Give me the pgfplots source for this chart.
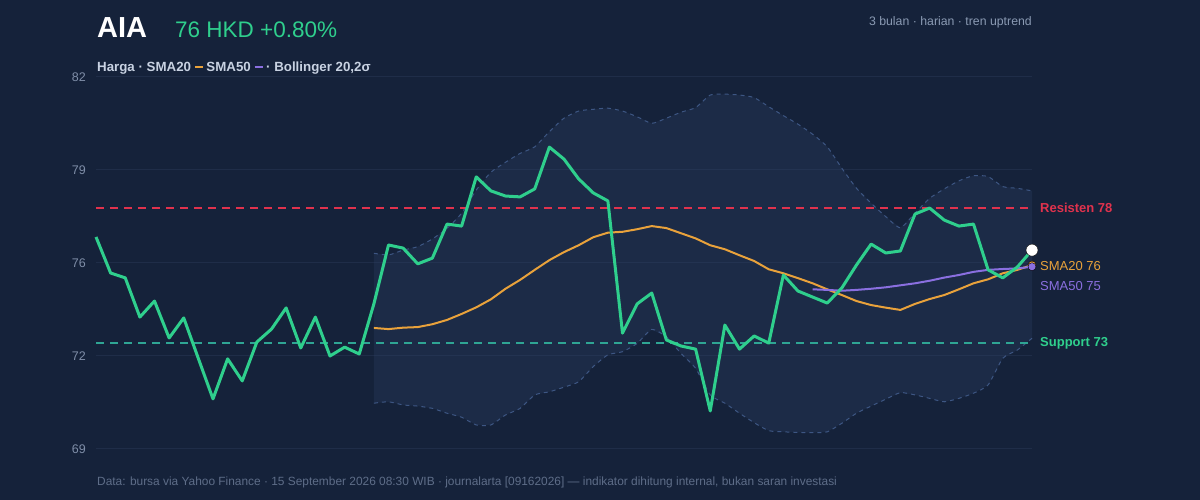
\documentclass[border=0pt]{standalone}
\usepackage{fontspec}
\setmainfont{Liberation Sans}
\usepackage{pgfplots}
\pgfplotsset{compat=1.18}
\usepackage{pgfplotstable}

\definecolor{bg}{HTML}{15223A}
\definecolor{bandfill}{HTML}{31466F}
\definecolor{bandline}{HTML}{3D5683}
\definecolor{gridc}{HTML}{1F2D48}
\definecolor{pricec}{HTML}{2FCF8D}
\definecolor{smaor}{HTML}{E9A23B}
\definecolor{smapu}{HTML}{8A6FE0}
\definecolor{resc}{HTML}{E0324D}
\definecolor{supc}{HTML}{2FA594}
\definecolor{tickc}{HTML}{7F8EA8}
\definecolor{subc}{HTML}{8A9AB3}
\definecolor{footc}{HTML}{5E6D88}
\definecolor{legc}{HTML}{C8D2E2}

\pgfplotstableread{
i p
0 76.41
1 75.15
2 74.98
3 73.61
4 74.17
5 72.88
6 73.58
7 72.16
8 70.75
9 72.15
10 71.38
11 72.74
12 73.19
13 73.93
14 72.53
15 73.61
16 72.25
17 72.56
18 72.32
19 74.07
20 76.13
21 76.02
22 75.47
23 75.67
24 76.86
25 76.79
26 78.51
27 78.02
28 77.84
29 77.81
30 78.09
31 79.55
32 79.13
33 78.44
34 77.95
35 77.67
36 73.05
37 74.07
38 74.45
39 72.81
40 72.60
41 72.49
42 70.33
43 73.33
44 72.49
45 72.95
46 72.70
47 75.08
48 74.52
49 74.31
50 74.10
51 74.63
52 75.43
53 76.16
54 75.85
55 75.92
56 77.21
57 77.42
58 77.00
59 76.79
60 76.86
61 75.26
62 74.98
63 75.36
64 75.95
}\pricetab

\pgfplotstableread{
i up lo sma
19 75.84 70.60 73.23
20 75.78 70.65 73.19
21 75.95 70.54 73.24
22 76.07 70.50 73.26
23 76.34 70.42 73.36
24 76.71 70.25 73.51
25 77.24 70.11 73.72
26 78.05 69.84 73.95
27 78.67 69.84 74.23
28 79.02 70.19 74.60
29 79.33 70.42 74.91
30 79.56 70.89 75.26
31 80.09 71.00 75.60
32 80.56 71.16 75.88
33 80.81 71.35 76.12
34 80.87 71.88 76.40
35 80.91 72.29 76.56
36 80.81 72.40 76.59
37 80.61 72.69 76.68
38 80.38 73.18 76.79
39 80.56 72.92 76.72
40 80.77 72.34 76.54
41 80.93 71.82 76.36
42 81.37 70.89 76.12
43 81.40 70.60 75.98
44 81.37 70.25 75.77
45 81.28 69.92 75.57
46 80.96 69.64 75.28
47 80.65 69.60 75.14
48 80.35 69.58 74.97
49 80.00 69.57 74.79
50 79.56 69.60 74.58
51 78.81 69.90 74.38
52 78.11 70.25 74.17
53 77.59 70.50 74.03
54 77.12 70.74 73.94
55 76.73 70.97 73.86
56 77.24 70.89 74.07
57 77.76 70.77 74.24
58 78.09 70.65 74.38
59 78.37 70.77 74.58
60 78.55 70.95 74.79
61 78.52 71.24 74.93
62 78.17 72.17 75.14
63 78.11 72.46 75.26
64 78.02 72.87 75.43
}\bandtab

% band polygon: upper forward, lower backward
\pgfplotstableread{
i v
19 75.84
20 75.78
21 75.95
22 76.07
23 76.34
24 76.71
25 77.24
26 78.05
27 78.67
28 79.02
29 79.33
30 79.56
31 80.09
32 80.56
33 80.81
34 80.87
35 80.91
36 80.81
37 80.61
38 80.38
39 80.56
40 80.77
41 80.93
42 81.37
43 81.40
44 81.37
45 81.28
46 80.96
47 80.65
48 80.35
49 80.00
50 79.56
51 78.81
52 78.11
53 77.59
54 77.12
55 76.73
56 77.24
57 77.76
58 78.09
59 78.37
60 78.55
61 78.52
62 78.17
63 78.11
64 78.02
64 72.87
63 72.46
62 72.17
61 71.24
60 70.95
59 70.77
58 70.65
57 70.77
56 70.89
55 70.97
54 70.74
53 70.50
52 70.25
51 69.90
50 69.60
49 69.57
48 69.58
47 69.60
46 69.64
45 69.92
44 70.25
43 70.60
42 70.89
41 71.82
40 72.34
39 72.92
38 73.18
37 72.69
36 72.40
35 72.29
34 71.88
33 71.35
32 71.16
31 71.00
30 70.89
29 70.42
28 70.19
27 69.84
26 69.84
25 70.11
24 70.25
23 70.42
22 70.50
21 70.54
20 70.65
19 70.60
}\polytab

\pgfplotstableread{
i s
49 74.58
50 74.56
51 74.53
52 74.56
53 74.60
54 74.65
55 74.72
56 74.79
57 74.88
58 74.99
59 75.08
60 75.19
61 75.26
62 75.29
63 75.31
64 75.37
}\smaftab

\begin{document}
\begin{tikzpicture}
\fill[bg] (0pt,0pt) rectangle (1200pt,500pt);
\begin{axis}[
  at={(96pt,51pt)}, anchor=south west,
  scale only axis, width=936pt, height=372pt,
  xmin=0, xmax=64, ymin=69, ymax=82,
  enlargelimits=false, clip=false,
  axis line style={draw=none},
  xtick=\empty,
  ytick={69,72.25,75.5,78.75,82},
  yticklabels={69,72,76,79,82},
  major tick length=0pt,
  ymajorgrids, grid style={gridc, line width=1pt},
  /pgf/number format/assume math mode=true,
  yticklabel style={font=\fontsize{12.5}{15}\selectfont, text=tickc, anchor=east, inner sep=0pt, xshift=-10pt},
]
% Bollinger band
\addplot[fill=bandfill, fill opacity=0.25, draw=none] table[x=i,y=v] {\polytab} -- cycle;
\addplot[draw=bandline, line width=1pt, dash pattern=on 4pt off 4pt, smooth, tension=0.35] table[x=i,y=up] {\bandtab};
\addplot[draw=bandline, line width=1pt, dash pattern=on 4pt off 4pt, smooth, tension=0.35] table[x=i,y=lo] {\bandtab};
% resistance / support
\addplot[resc, line width=1.4pt, dash pattern=on 8pt off 6pt] coordinates {(0,77.42) (64,77.42)};
\addplot[supc, line width=1.4pt, dash pattern=on 8pt off 6pt] coordinates {(0,72.70) (64,72.70)};
% SMAs
\addplot[smaor, line width=2pt] table[x=i,y=sma] {\bandtab};
\addplot[smapu, line width=2pt] table[x=i,y=s] {\smaftab};
% price
\addplot[pricec, line width=3pt, line join=round] table[x=i,y=p] {\pricetab};
% end markers
\addplot[only marks, mark=*, mark size=4pt, mark options={fill=smaor, draw=none}] coordinates {(64,75.43)};
\addplot[only marks, mark=*, mark size=4pt, mark options={fill=smapu, draw=none}] coordinates {(64,75.37)};
\addplot[only marks, mark=*, mark size=6pt, mark options={fill=white, draw=none}] coordinates {(64,75.95)};
\end{axis}
% titles
\node[anchor=base west, inner sep=0pt, text=white, font=\fontsize{29}{32}\selectfont\bfseries] at (97pt,462pt) {AIA};
\node[anchor=base west, inner sep=0pt, text=pricec, font=\fontsize{22.5}{26}\selectfont] at (175pt,462pt) {76 HKD +0.80\%};
\node[anchor=base east, inner sep=0pt, text=subc, font=\fontsize{12.3}{15}\selectfont] at (1032pt,474pt) {3 bulan · harian · tren uptrend};
\node[anchor=base west, inner sep=0pt, text=legc, font=\fontsize{13.3}{16}\selectfont\bfseries] at (97pt,428pt) {Harga · SMA20 \textcolor{smaor}{\rule[0.28em]{8pt}{2.5pt}} SMA50 \textcolor{smapu}{\rule[0.28em]{8pt}{2.5pt}} · Bollinger 20,2σ};
% right labels
\node[anchor=west, inner sep=0pt, text=resc, font=\fontsize{13}{15}\selectfont\bfseries] at (1040pt,292pt) {Resisten 78};
\node[anchor=west, inner sep=0pt, text=smaor, font=\fontsize{13}{15}\selectfont] at (1040pt,234.3pt) {SMA20 76};
\node[anchor=west, inner sep=0pt, text=smapu, font=\fontsize{13}{15}\selectfont] at (1040pt,214.3pt) {SMA50 75};
\node[anchor=west, inner sep=0pt, text=pricec, font=\fontsize{13}{15}\selectfont\bfseries] at (1040pt,156.7pt) {Support 73};
% footer
\node[anchor=base west, inner sep=0pt, text=footc, font=\fontsize{11.9}{14}\selectfont] at (97pt,14pt) {Data: bursa via Yahoo Finance · 15 September 2026 08:30 WIB · journalarta [09162026] — indikator dihitung internal, bukan saran investasi};
\end{tikzpicture}
\end{document}
